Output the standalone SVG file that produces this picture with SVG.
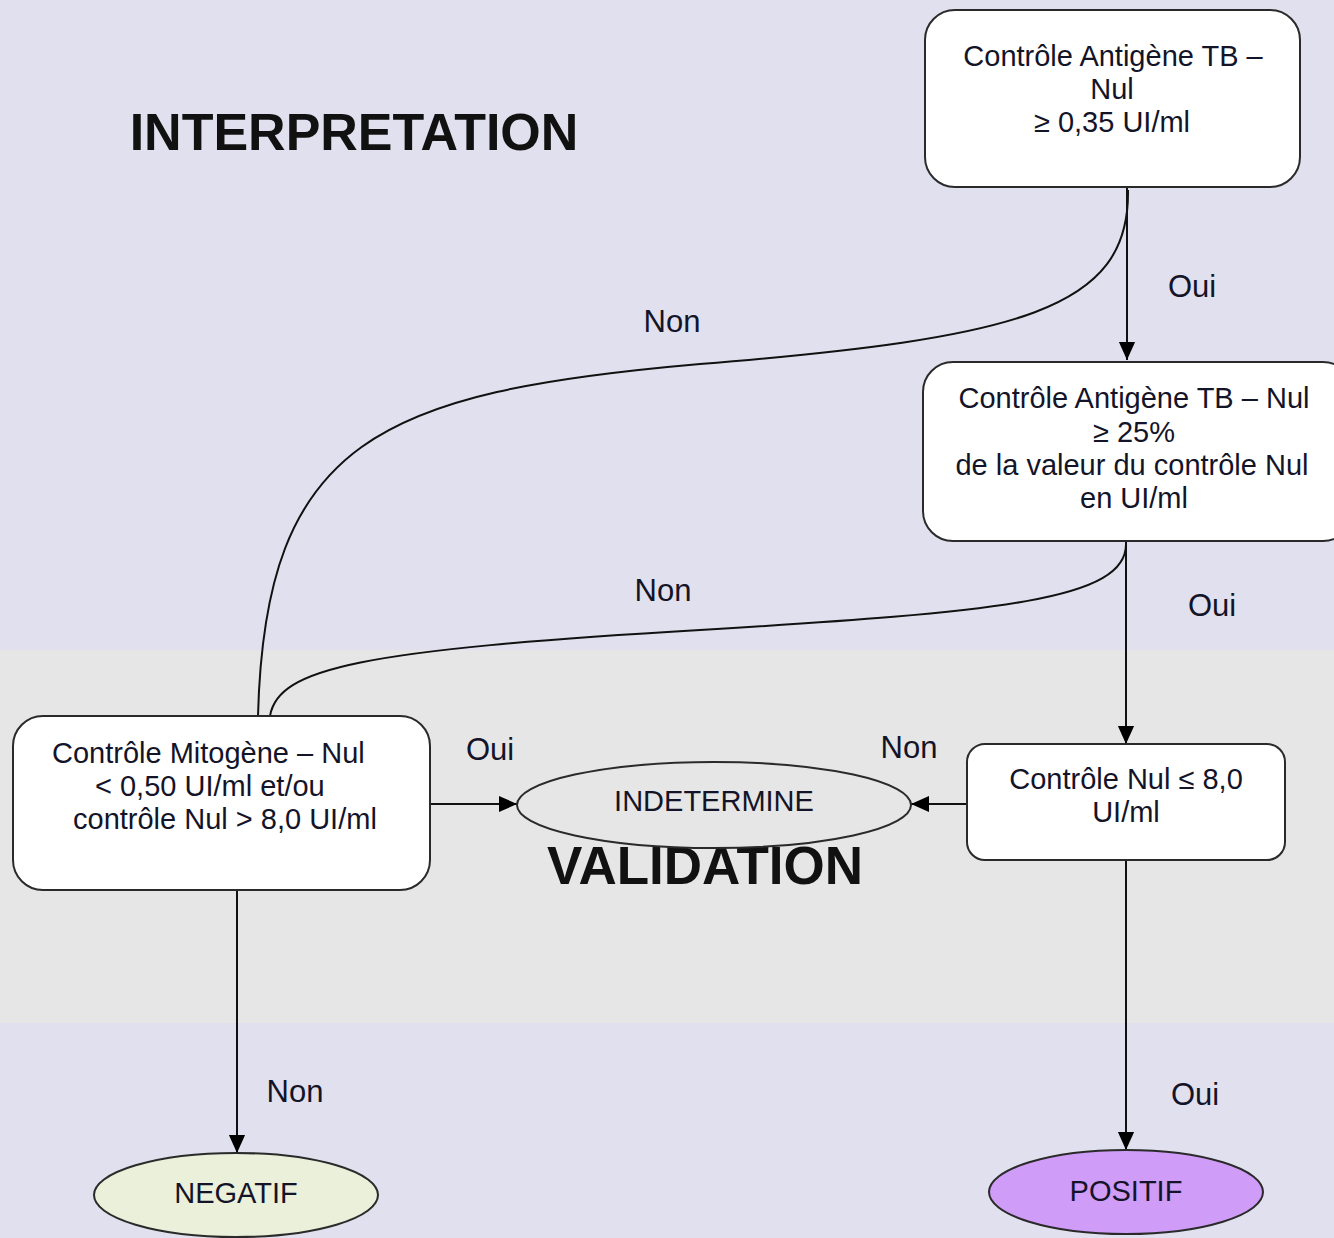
<svg xmlns="http://www.w3.org/2000/svg" width="1334" height="1238" viewBox="0 0 1334 1238">
<style>
.box{fill:#ffffff;stroke:#2a2a2a;stroke-width:2}
.t{font-family:"Liberation Sans",Arial,sans-serif;font-size:29px;fill:#141428}
.c{text-anchor:middle}
.lbl{font-family:"Liberation Sans",Arial,sans-serif;font-size:31px;fill:#141428;text-anchor:middle}
.title{font-family:"Liberation Sans",Arial,sans-serif;font-weight:bold;fill:#111;text-anchor:middle}
.edge{fill:none;stroke:#111;stroke-width:2}
</style>
<defs>
<marker id="arrL" viewBox="0 0 10 10" refX="10" refY="5" markerWidth="18" markerHeight="18" markerUnits="userSpaceOnUse" orient="auto">
<path d="M0,0.5 L10,5 L0,9.5 z" fill="#000"/>
</marker>
</defs>
<rect x="0" y="0" width="1334" height="1238" fill="#e0e0ee"/>
<rect x="0" y="650" width="1334" height="373" fill="#e6e6e6"/>
<text class="title" x="354" y="150" font-size="52">INTERPRETATION</text>
<text class="title" x="705" y="884" font-size="53">VALIDATION</text>
<g id="connectors">
<path class="edge" d="M1128,190 C1130,310 1020,338 700,364 C380,392 265,440 258,716"/>
<path class="edge" d="M1126,543 C1128,600 1000,612 700,630 C360,650 278,668 270,716"/>
<path class="edge" d="M1127,188 L1127,360" marker-end="url(#arrL)"/>
<path class="edge" d="M1126,542 L1126,744" marker-end="url(#arrL)"/>
<path class="edge" d="M430,804 L517,804" marker-end="url(#arrL)"/>
<path class="edge" d="M967,804 L911,804" marker-end="url(#arrL)"/>
<path class="edge" d="M237,890 L237,1153" marker-end="url(#arrL)"/>
<path class="edge" d="M1126,860 L1126,1150" marker-end="url(#arrL)"/>
<text class="lbl" x="1192" y="297">Oui</text>
<text class="lbl" x="672" y="332">Non</text>
<text class="lbl" x="663" y="601">Non</text>
<text class="lbl" x="1212" y="616">Oui</text>
<text class="lbl" x="490" y="760">Oui</text>
<text class="lbl" x="909" y="758">Non</text>
<text class="lbl" x="295" y="1102">Non</text>
<text class="lbl" x="1195" y="1105">Oui</text>
</g>
<g id="n1">
<rect class="box" x="925" y="10" width="375" height="177" rx="30"/>
<text class="t c" x="1113" y="66">Contrôle Antigène TB –</text>
<text class="t c" x="1112" y="99">Nul</text>
<text class="t c" x="1112" y="132">≥ 0,35 UI/ml</text>
</g>
<g id="n2">
<rect class="box" x="923" y="362" width="430" height="179" rx="30"/>
<text class="t c" x="1134" y="408">Contrôle Antigène TB – Nul</text>
<text class="t c" x="1134" y="442">≥ 25%</text>
<text class="t c" x="1132" y="475">de la valeur du contrôle Nul</text>
<text class="t c" x="1134" y="508">en UI/ml</text>
</g>
<g id="n3">
<rect class="box" x="13" y="716" width="417" height="174" rx="30"/>
<text class="t" x="52" y="763">Contrôle Mitogène – Nul</text>
<text class="t" x="95" y="796">&lt; 0,50 UI/ml et/ou</text>
<text class="t" x="73" y="829">contrôle Nul &gt; 8,0 UI/ml</text>
</g>
<g id="n4">
<ellipse cx="714" cy="805" rx="197" ry="43" fill="#e6e6e6" stroke="#2a2a2a" stroke-width="2"/>
<text class="t c" x="714" y="811">INDETERMINE</text>
</g>
<g id="n5">
<rect class="box" x="967" y="744" width="318" height="116" rx="18"/>
<text class="t c" x="1126" y="789">Contrôle Nul ≤ 8,0</text>
<text class="t c" x="1126" y="822">UI/ml</text>
</g>
<g id="n6">
<ellipse cx="236" cy="1195" rx="142" ry="42" fill="#eaf0da" stroke="#2a2a2a" stroke-width="2"/>
<text class="t c" x="236" y="1203">NEGATIF</text>
</g>
<g id="n7">
<ellipse cx="1126" cy="1192" rx="137" ry="42" fill="#cf9cf8" stroke="#2a2a2a" stroke-width="2"/>
<text class="t c" x="1126" y="1201">POSITIF</text>
</g>
</svg>
